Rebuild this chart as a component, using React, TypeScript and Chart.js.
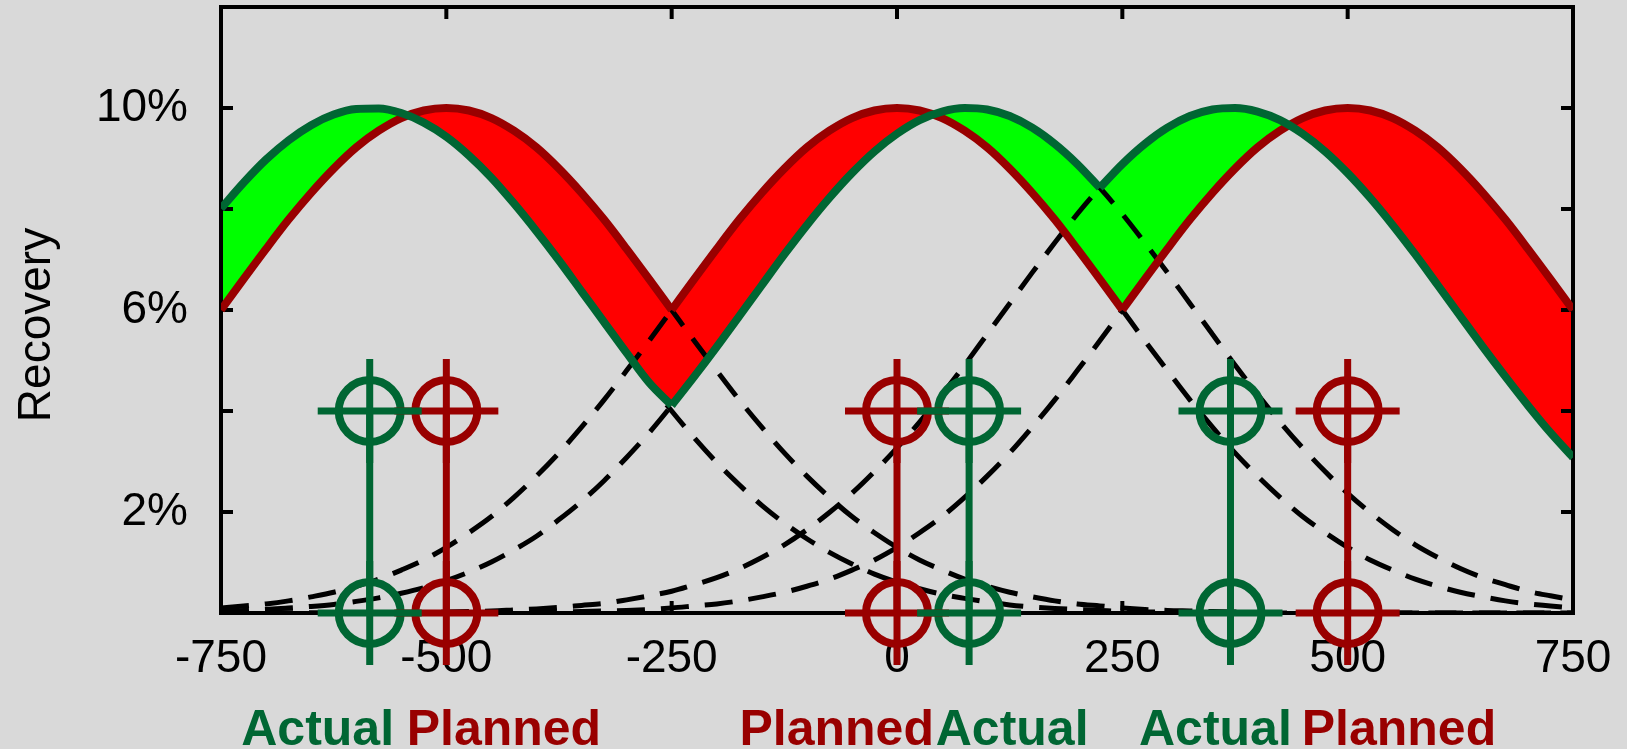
import { useEffect, useRef } from 'react';
import { Chart, registerables } from 'chart.js';

Chart.register(...registerables);

// ---------- data ----------
const xGrid = [-750,-725,-700,-675,-650,-625,-600,-575,-550,-525,-500,-475,-450,-425,-400,-375,-350,-325,-300,-275,-250,-225,-200,-175,-150,-125,-100,-75,-50,-25,0,25,50,75,100,125,150,175,200,225,250,275,300,325,350,375,400,425,450,475,500,525,550,575,600,625,650,675,700,725,750];

// solid envelopes (Recovery %)
const plannedRecovery = [6.00,6.61,7.21,7.79,8.32,8.80,9.22,9.55,9.80,9.95,10.00,9.95,9.80,9.55,9.22,8.80,8.32,7.79,7.21,6.61,6.00,6.61,7.21,7.79,8.32,8.80,9.22,9.55,9.80,9.95,10.00,9.95,9.80,9.55,9.22,8.80,8.32,7.79,7.21,6.61,6.00,6.61,7.21,7.79,8.32,8.80,9.22,9.55,9.80,9.95,10.00,9.95,9.80,9.55,9.22,8.80,8.32,7.79,7.21,6.61,6.00];
const actualRecovery = [8.01,8.52,8.98,9.36,9.66,9.87,9.98,9.99,9.90,9.71,9.43,9.06,8.62,8.11,7.56,6.98,6.37,5.76,5.15,4.56,4.11,4.68,5.27,5.88,6.49,7.10,7.68,8.22,8.71,9.14,9.49,9.76,9.93,10.00,9.97,9.84,9.61,9.29,8.89,8.42,8.89,9.29,9.61,9.84,9.97,10.00,9.93,9.76,9.49,9.14,8.71,8.22,7.68,7.10,6.49,5.88,5.27,4.68,4.11,3.57,3.08];
// x positions where the envelopes switch from one curve to the next
const plannedKinks = [-250, 250];
const actualKinks = [-250, 225];

// individual dashed curves
const plannedCurve1 = [6.00,6.61,7.21,7.79,8.32,8.80,9.22,9.55,9.80,9.95,10.00,9.95,9.80,9.55,9.22,8.80,8.32,7.79,7.21,6.61,6.00,5.39,4.80,4.22,3.68,3.17,2.71,2.29,1.91,1.59,1.30,1.05,0.85,0.67,0.53,0.41,0.32,0.24,0.18,0.14,0.10,0.07,0.05,0.04,0.03,0.02,0.01,0.01,0.01,0.00,0,0,0,0,0,0,0,0,0,0,0];
const plannedCurve2 = [0.10,0.14,0.18,0.24,0.32,0.41,0.53,0.67,0.85,1.05,1.30,1.59,1.91,2.29,2.71,3.17,3.68,4.22,4.80,5.39,6.00,6.61,7.21,7.79,8.32,8.80,9.22,9.55,9.80,9.95,10.00,9.95,9.80,9.55,9.22,8.80,8.32,7.79,7.21,6.61,6.00,5.39,4.80,4.22,3.68,3.17,2.71,2.29,1.91,1.59,1.30,1.05,0.85,0.67,0.53,0.41,0.32,0.24,0.18,0.14,0.10];
const plannedCurve3 = [0,0,0,0,0,0,0,0,0,0,0,0.00,0.01,0.01,0.01,0.02,0.03,0.04,0.05,0.07,0.10,0.14,0.18,0.24,0.32,0.41,0.53,0.67,0.85,1.05,1.30,1.59,1.91,2.29,2.71,3.17,3.68,4.22,4.80,5.39,6.00,6.61,7.21,7.79,8.32,8.80,9.22,9.55,9.80,9.95,10.00,9.95,9.80,9.55,9.22,8.80,8.32,7.79,7.21,6.61,6.00];
const actualCurve1 = [8.01,8.52,8.98,9.36,9.66,9.87,9.98,9.99,9.90,9.71,9.43,9.06,8.62,8.11,7.56,6.98,6.37,5.76,5.15,4.56,4.00,3.47,2.98,2.54,2.13,1.78,1.47,1.20,0.97,0.77,0.61,0.48,0.37,0.29,0.22,0.16,0.12,0.09,0.07,0.05,0.03,0.02,0.02,0.01,0.01,0.01,0,0,0,0,0,0,0,0,0,0,0,0,0,0,0];
const actualCurve2 = [0.04,0.05,0.07,0.10,0.13,0.17,0.23,0.30,0.39,0.50,0.64,0.81,1.01,1.25,1.52,1.85,2.21,2.62,3.08,3.57,4.11,4.68,5.27,5.88,6.49,7.10,7.68,8.22,8.71,9.14,9.49,9.76,9.93,10.00,9.97,9.84,9.61,9.29,8.89,8.42,7.90,7.33,6.74,6.13,5.52,4.91,4.33,3.78,3.27,2.80,2.37,1.99,1.65,1.35,1.10,0.88,0.70,0.56,0.43,0.34,0.26];
const actualCurve3 = [0,0,0,0,0,0,0,0.01,0.01,0.01,0.02,0.03,0.04,0.06,0.08,0.11,0.15,0.19,0.26,0.34,0.43,0.56,0.70,0.88,1.10,1.35,1.65,1.99,2.37,2.80,3.27,3.78,4.33,4.91,5.52,6.13,6.74,7.33,7.90,8.42,8.89,9.29,9.61,9.84,9.97,10.00,9.93,9.76,9.49,9.14,8.71,8.22,7.68,7.10,6.49,5.88,5.27,4.68,4.11,3.57,3.08];

// crosshair markers
const plannedMarkers = [-500, 0, 500];
const actualMarkers = [-585, 80, 370];
const markerLevels = [0, 4];

// ticks
const xTickValues = [-750, -500, -250, 0, 250, 500, 750];
const yTickLabels = [2, 6, 10];
const yTickMarks = [2, 4, 6, 8, 10];

// category labels under the axis
const labelTexts = ['Actual', 'Planned', 'Planned', 'Actual', 'Actual', 'Planned'];
const labelSeries = ['actual', 'planned', 'planned', 'actual', 'actual', 'planned'];
const labelAnchors = [-558, -544, 41, 43, 438, 449];
const labelAligns = ['right', 'left', 'right', 'left', 'right', 'left'];

// ---------- styles ----------
const BG = '#d9d9d9';
const GREEN = '#006633';
const RED = '#990000';
const FILL_GREEN = '#00ff00';
const FILL_RED = '#ff0000';
const FONT = '"Liberation Sans", Arial, Helvetica, sans-serif';

export default function App() {
  const ref = useRef<HTMLCanvasElement>(null);

  useEffect(() => {
    document.body.style.margin = '0';
    document.body.style.background = BG;
    const canvas = ref.current;
    if (!canvas) return;

    const pts = (ys: number[]) => xGrid.map((x, i) => ({ x, y: ys[i] }));

    // split an envelope into its smooth pieces at the kinks
    const pieces = (ys: number[], kinks: number[]) => {
      const bounds = [xGrid[0], ...kinks, xGrid[xGrid.length - 1]];
      const out: { x: number; y: number }[][] = [];
      for (let k = 0; k < bounds.length - 1; k++) {
        out.push(pts(ys).filter((p) => p.x >= bounds[k] && p.x <= bounds[k + 1]));
      }
      return out;
    };

    const envelopeLine = (data: any[], col: string, order: number) => ({
      type: 'line',
      data,
      borderColor: col,
      borderWidth: 8,
      pointRadius: 0,
      cubicInterpolationMode: 'monotone',
      fill: false,
      order,
    });

    const dashed = (ys: number[]) => ({
      type: 'line',
      data: pts(ys),
      borderColor: '#000',
      borderWidth: 5,
      borderDash: [28, 16],
      pointRadius: 0,
      fill: false,
      cubicInterpolationMode: 'monotone',
      order: 4,
    });

    const markerLine = (c: number, col: string) => ({
      type: 'line',
      data: markerLevels.map((y) => ({ x: c, y })),
      borderColor: col,
      borderWidth: 7,
      pointStyle: 'cross',
      pointRadius: 52,
      pointBorderWidth: 7,
      pointBorderColor: col,
      pointBackgroundColor: col,
      fill: false,
      clip: false,
      order: 0,
    });

    const circles = (cs: number[], col: string) => ({
      type: 'line',
      showLine: false,
      data: cs.flatMap((c) => markerLevels.map((y) => ({ x: c, y }))),
      pointStyle: 'circle',
      pointRadius: 31,
      pointBorderWidth: 8,
      pointBorderColor: col,
      pointBackgroundColor: 'rgba(0,0,0,0)',
      fill: false,
      clip: false,
      order: 0,
    });

    const decor = {
      id: 'decor',
      beforeDatasetsDraw(chart: any) {
        const { ctx, chartArea: a, scales } = chart;
        const xs = scales.x;
        const ys = scales.y;
        ctx.save();
        ctx.strokeStyle = '#000';
        ctx.lineWidth = 4;
        ctx.strokeRect(a.left, a.top, a.right - a.left, a.bottom - a.top);
        const tl = 12;
        ctx.beginPath();
        xTickValues.forEach((v) => {
          const px = xs.getPixelForValue(v);
          ctx.moveTo(px, a.bottom);
          ctx.lineTo(px, a.bottom - tl);
          ctx.moveTo(px, a.top);
          ctx.lineTo(px, a.top + tl);
        });
        yTickMarks.forEach((v) => {
          const py = ys.getPixelForValue(v);
          ctx.moveTo(a.left, py);
          ctx.lineTo(a.left + tl, py);
          ctx.moveTo(a.right, py);
          ctx.lineTo(a.right - tl, py);
        });
        ctx.stroke();
        ctx.restore();
      },
      afterDraw(chart: any) {
        const { ctx, chartArea: a, scales } = chart;
        ctx.save();
        ctx.fillStyle = '#000';
        ctx.font = `46px ${FONT}`;
        ctx.translate(50, (a.top + a.bottom) / 2 + 15);
        ctx.rotate(-Math.PI / 2);
        ctx.textAlign = 'center';
        ctx.textBaseline = 'alphabetic';
        ctx.fillText('Recovery', 0, 0);
        ctx.restore();

        ctx.save();
        ctx.font = `bold 50px ${FONT}`;
        ctx.textBaseline = 'alphabetic';
        labelTexts.forEach((t, i) => {
          ctx.fillStyle = labelSeries[i] === 'actual' ? GREEN : RED;
          ctx.textAlign = labelAligns[i] as CanvasTextAlign;
          ctx.fillText(t, scales.x.getPixelForValue(labelAnchors[i]), a.bottom + 132);
        });
        ctx.restore();
      },
    };

    const transparent = 'rgba(0,0,0,0)';

    const chart = new Chart(canvas, {
      type: 'line',
      data: {
        datasets: [
          // fill carriers (full envelopes, invisible strokes)
          {
            label: 'Planned',
            data: pts(plannedRecovery),
            borderColor: transparent,
            borderWidth: 1,
            pointRadius: 0,
            tension: 0,
            fill: false,
            order: 5,
          },
          {
            label: 'Actual',
            data: pts(actualRecovery),
            borderColor: transparent,
            borderWidth: 1,
            pointRadius: 0,
            tension: 0,
            fill: { target: 0, above: FILL_GREEN, below: FILL_RED },
            order: 5,
          },
          dashed(plannedCurve1),
          dashed(plannedCurve2),
          dashed(plannedCurve3),
          dashed(actualCurve1),
          dashed(actualCurve2),
          dashed(actualCurve3),
          ...pieces(plannedRecovery, plannedKinks).map((d) => envelopeLine(d, RED, 2)),
          ...pieces(actualRecovery, actualKinks).map((d) => envelopeLine(d, GREEN, 1)),
          ...actualMarkers.map((c) => markerLine(c, GREEN)),
          ...plannedMarkers.map((c) => markerLine(c, RED)),
          circles(actualMarkers, GREEN),
          circles(plannedMarkers, RED),
        ] as any,
      },
      options: {
        responsive: false,
        animation: false,
        devicePixelRatio: 1,
        events: [],
        layout: { autoPadding: false, padding: { top: 7, right: 54, left: 0, bottom: 0 } },
        plugins: {
          legend: { display: false },
          tooltip: { enabled: false },
          filler: { drawTime: 'beforeDatasetsDraw' },
        },
        scales: {
          x: {
            type: 'linear',
            min: -750,
            max: 750,
            grid: { display: false, drawTicks: false },
            border: { display: false },
            afterBuildTicks: (s: any) => {
              s.ticks = xTickValues.map((v) => ({ value: v }));
            },
            ticks: {
              color: '#000',
              font: { family: FONT, size: 46 },
              padding: 19,
              autoSkip: false,
              maxRotation: 0,
              minRotation: 0,
              callback: (v: any) => String(v),
            },
            afterFit: (s: any) => {
              s.height = 136;
              s.paddingLeft = 0;
              s.paddingRight = 0;
            },
          },
          y: {
            type: 'linear',
            min: 0,
            max: 12,
            grid: { display: false, drawTicks: false },
            border: { display: false },
            afterBuildTicks: (s: any) => {
              s.ticks = yTickLabels.map((v) => ({ value: v }));
            },
            ticks: {
              color: '#000',
              font: { family: FONT, size: 46 },
              padding: 33,
              autoSkip: false,
              callback: (v: any) => `${v}%`,
            },
            afterFit: (s: any) => {
              s.width = 221;
              s.paddingTop = 0;
              s.paddingBottom = 0;
            },
          },
        },
      } as any,
      plugins: [decor as any],
    });

    return () => chart.destroy();
  }, []);

  return (
    <div style={{ width: 1627, height: 749, background: BG }}>
      <canvas ref={ref} width={1627} height={749} style={{ display: 'block' }} />
    </div>
  );
}
